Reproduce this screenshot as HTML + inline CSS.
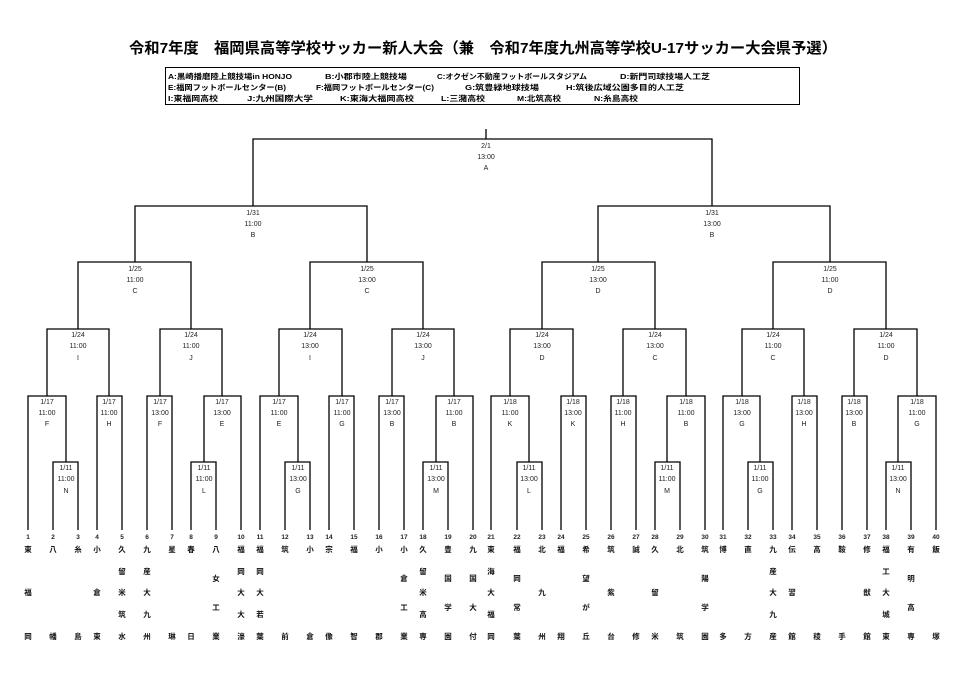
<!DOCTYPE html>
<html><head><meta charset="utf-8"><style>
html,body{margin:0;padding:0;background:#fff;}
svg{display:block;font-family:"Liberation Sans","Noto Sans CJK JP",sans-serif;}
.l{font-size:7px;fill:#222;text-anchor:middle;}
.n{font-size:6.5px;fill:#222;text-anchor:middle;font-weight:bold;}
.t{font-size:7.5px;fill:#111;text-anchor:middle;font-weight:bold;}
.g{font-size:7.5px;font-weight:bold;fill:#000;}
</style></head><body>
<svg width="966" height="680" viewBox="0 0 966 680" xmlns="http://www.w3.org/2000/svg">
<text x="483" y="53" text-anchor="middle" font-size="15" font-weight="bold" textLength="708" lengthAdjust="spacingAndGlyphs">令和7年度　福岡県高等学校サッカー新人大会（兼　令和7年度九州高等学校U-17サッカー大会県予選）</text>
<rect x="165.5" y="67.5" width="634" height="37" fill="none" stroke="#000" stroke-width="1"/>
<g class="g">
<text x="168" y="79" textLength="124" lengthAdjust="spacingAndGlyphs">A:黒崎播磨陸上競技場in HONJO</text>
<text x="325" y="79" textLength="82" lengthAdjust="spacingAndGlyphs">B:小郡市陸上競技場</text>
<text x="437" y="79" textLength="150" lengthAdjust="spacingAndGlyphs">C:オクゼン不動産フットボールスタジアム</text>
<text x="620" y="79" textLength="90" lengthAdjust="spacingAndGlyphs">D:新門司球技場人工芝</text>
<text x="168" y="90" textLength="118" lengthAdjust="spacingAndGlyphs">E:福岡フットボールセンター(B)</text>
<text x="316" y="90" textLength="118" lengthAdjust="spacingAndGlyphs">F:福岡フットボールセンター(C)</text>
<text x="465" y="90" textLength="74" lengthAdjust="spacingAndGlyphs">G:筑豊緑地球技場</text>
<text x="566" y="90" textLength="118" lengthAdjust="spacingAndGlyphs">H:筑後広域公園多目的人工芝</text>
<text x="168" y="101" textLength="50" lengthAdjust="spacingAndGlyphs">I:東福岡高校</text>
<text x="247" y="101" textLength="66" lengthAdjust="spacingAndGlyphs">J:九州国際大学</text>
<text x="340" y="101" textLength="74" lengthAdjust="spacingAndGlyphs">K:東海大福岡高校</text>
<text x="441" y="101" textLength="44" lengthAdjust="spacingAndGlyphs">L:三潴高校</text>
<text x="517" y="101" textLength="44" lengthAdjust="spacingAndGlyphs">M:北筑高校</text>
<text x="594" y="101" textLength="44" lengthAdjust="spacingAndGlyphs">N:糸島高校</text>
</g>
<g fill="none" stroke="#000" stroke-width="1.3">
<path d="M486 129V139"/>
<path d="M53 530V462H78V530"/>
<path d="M28 530V396H66V462"/>
<path d="M97 530V396H122V530"/>
<path d="M47 396V329H109V396"/>
<path d="M147 530V396H172V530"/>
<path d="M191 530V462H216V530"/>
<path d="M204 462V396H241V530"/>
<path d="M160 396V329H222V396"/>
<path d="M78 329V262H191V329"/>
<path d="M285 530V462H310V530"/>
<path d="M260 530V396H298V462"/>
<path d="M329 530V396H354V530"/>
<path d="M279 396V329H342V396"/>
<path d="M379 530V396H404V530"/>
<path d="M423 530V462H448V530"/>
<path d="M436 462V396H473V530"/>
<path d="M392 396V329H454V396"/>
<path d="M310 329V262H423V329"/>
<path d="M135 262V206H367V262"/>
<path d="M517 530V462H542V530"/>
<path d="M491 530V396H529V462"/>
<path d="M561 530V396H586V530"/>
<path d="M510 396V329H573V396"/>
<path d="M611 530V396H636V530"/>
<path d="M655 530V462H680V530"/>
<path d="M667 462V396H705V530"/>
<path d="M623 396V329H686V396"/>
<path d="M542 329V262H655V329"/>
<path d="M748 530V462H773V530"/>
<path d="M723 530V396H760V462"/>
<path d="M792 530V396H817V530"/>
<path d="M742 396V329H804V396"/>
<path d="M842 530V396H867V530"/>
<path d="M886 530V462H911V530"/>
<path d="M898 462V396H936V530"/>
<path d="M854 396V329H917V396"/>
<path d="M773 329V262H886V329"/>
<path d="M598 262V206H830V262"/>
<path d="M253 206V139H712V206"/>
</g>
<g class="l">
<text x="486" y="148">2/1</text><text x="486" y="159">13:00</text><text x="486" y="170">A</text>
<text x="253" y="215">1/31</text><text x="253" y="226">11:00</text><text x="253" y="237">B</text>
<text x="712" y="215">1/31</text><text x="712" y="226">13:00</text><text x="712" y="237">B</text>
<text x="135" y="271">1/25</text><text x="135" y="282">11:00</text><text x="135" y="293">C</text>
<text x="367" y="271">1/25</text><text x="367" y="282">13:00</text><text x="367" y="293">C</text>
<text x="598" y="271">1/25</text><text x="598" y="282">13:00</text><text x="598" y="293">D</text>
<text x="830" y="271">1/25</text><text x="830" y="282">11:00</text><text x="830" y="293">D</text>
<text x="78" y="337">1/24</text><text x="78" y="348">11:00</text><text x="78" y="360">I</text>
<text x="191" y="337">1/24</text><text x="191" y="348">11:00</text><text x="191" y="360">J</text>
<text x="310" y="337">1/24</text><text x="310" y="348">13:00</text><text x="310" y="360">I</text>
<text x="423" y="337">1/24</text><text x="423" y="348">13:00</text><text x="423" y="360">J</text>
<text x="542" y="337">1/24</text><text x="542" y="348">13:00</text><text x="542" y="360">D</text>
<text x="655" y="337">1/24</text><text x="655" y="348">13:00</text><text x="655" y="360">C</text>
<text x="773" y="337">1/24</text><text x="773" y="348">11:00</text><text x="773" y="360">C</text>
<text x="886" y="337">1/24</text><text x="886" y="348">11:00</text><text x="886" y="360">D</text>
<text x="47" y="404">1/17</text><text x="47" y="415">11:00</text><text x="47" y="426">F</text>
<text x="109" y="404">1/17</text><text x="109" y="415">11:00</text><text x="109" y="426">H</text>
<text x="160" y="404">1/17</text><text x="160" y="415">13:00</text><text x="160" y="426">F</text>
<text x="222" y="404">1/17</text><text x="222" y="415">13:00</text><text x="222" y="426">E</text>
<text x="279" y="404">1/17</text><text x="279" y="415">11:00</text><text x="279" y="426">E</text>
<text x="342" y="404">1/17</text><text x="342" y="415">11:00</text><text x="342" y="426">G</text>
<text x="392" y="404">1/17</text><text x="392" y="415">13:00</text><text x="392" y="426">B</text>
<text x="454" y="404">1/17</text><text x="454" y="415">11:00</text><text x="454" y="426">B</text>
<text x="510" y="404">1/18</text><text x="510" y="415">11:00</text><text x="510" y="426">K</text>
<text x="573" y="404">1/18</text><text x="573" y="415">13:00</text><text x="573" y="426">K</text>
<text x="623" y="404">1/18</text><text x="623" y="415">11:00</text><text x="623" y="426">H</text>
<text x="686" y="404">1/18</text><text x="686" y="415">11:00</text><text x="686" y="426">B</text>
<text x="742" y="404">1/18</text><text x="742" y="415">13:00</text><text x="742" y="426">G</text>
<text x="804" y="404">1/18</text><text x="804" y="415">13:00</text><text x="804" y="426">H</text>
<text x="854" y="404">1/18</text><text x="854" y="415">13:00</text><text x="854" y="426">B</text>
<text x="917" y="404">1/18</text><text x="917" y="415">11:00</text><text x="917" y="426">G</text>
<text x="66" y="470">1/11</text><text x="66" y="481">11:00</text><text x="66" y="493">N</text>
<text x="204" y="470">1/11</text><text x="204" y="481">11:00</text><text x="204" y="493">L</text>
<text x="298" y="470">1/11</text><text x="298" y="481">13:00</text><text x="298" y="493">G</text>
<text x="436" y="470">1/11</text><text x="436" y="481">13:00</text><text x="436" y="493">M</text>
<text x="529" y="470">1/11</text><text x="529" y="481">13:00</text><text x="529" y="493">L</text>
<text x="667" y="470">1/11</text><text x="667" y="481">11:00</text><text x="667" y="493">M</text>
<text x="760" y="470">1/11</text><text x="760" y="481">11:00</text><text x="760" y="493">G</text>
<text x="898" y="470">1/11</text><text x="898" y="481">13:00</text><text x="898" y="493">N</text>
</g>
<g class="n">
<text x="28" y="539">1</text><text x="53" y="539">2</text><text x="78" y="539">3</text><text x="97" y="539">4</text><text x="122" y="539">5</text>
<text x="147" y="539">6</text><text x="172" y="539">7</text><text x="191" y="539">8</text><text x="216" y="539">9</text><text x="241" y="539">10</text>
<text x="260" y="539">11</text><text x="285" y="539">12</text><text x="310" y="539">13</text><text x="329" y="539">14</text><text x="354" y="539">15</text>
<text x="379" y="539">16</text><text x="404" y="539">17</text><text x="423" y="539">18</text><text x="448" y="539">19</text><text x="473" y="539">20</text>
<text x="491" y="539">21</text><text x="517" y="539">22</text><text x="542" y="539">23</text><text x="561" y="539">24</text><text x="586" y="539">25</text>
<text x="611" y="539">26</text><text x="636" y="539">27</text><text x="655" y="539">28</text><text x="680" y="539">29</text><text x="705" y="539">30</text>
<text x="723" y="539">31</text><text x="748" y="539">32</text><text x="773" y="539">33</text><text x="792" y="539">34</text><text x="817" y="539">35</text>
<text x="842" y="539">36</text><text x="867" y="539">37</text><text x="886" y="539">38</text><text x="911" y="539">39</text><text x="936" y="539">40</text>
</g>
<g class="t">
<text x="28" y="552">東</text><text x="28" y="595">福</text><text x="28" y="639">岡</text>
<text x="53" y="552">八</text><text x="53" y="639">幡</text>
<text x="78" y="552">糸</text><text x="78" y="639">島</text>
<text x="97" y="552">小</text><text x="97" y="595">倉</text><text x="97" y="639">東</text>
<text x="122" y="552">久</text><text x="122" y="574">留</text><text x="122" y="595">米</text><text x="122" y="617">筑</text><text x="122" y="639">水</text>
<text x="147" y="552">九</text><text x="147" y="574">産</text><text x="147" y="595">大</text><text x="147" y="617">九</text><text x="147" y="639">州</text>
<text x="172" y="552">星</text><text x="172" y="639">琳</text>
<text x="191" y="552">春</text><text x="191" y="639">日</text>
<text x="216" y="552">八</text><text x="216" y="581">女</text><text x="216" y="610">工</text><text x="216" y="639">業</text>
<text x="241" y="552">福</text><text x="241" y="574">岡</text><text x="241" y="595">大</text><text x="241" y="617">大</text><text x="241" y="639">濠</text>
<text x="260" y="552">福</text><text x="260" y="574">岡</text><text x="260" y="595">大</text><text x="260" y="617">若</text><text x="260" y="639">葉</text>
<text x="285" y="552">筑</text><text x="285" y="639">前</text>
<text x="310" y="552">小</text><text x="310" y="639">倉</text>
<text x="329" y="552">宗</text><text x="329" y="639">像</text>
<text x="354" y="552">福</text><text x="354" y="639">智</text>
<text x="379" y="552">小</text><text x="379" y="639">郡</text>
<text x="404" y="552">小</text><text x="404" y="581">倉</text><text x="404" y="610">工</text><text x="404" y="639">業</text>
<text x="423" y="552">久</text><text x="423" y="574">留</text><text x="423" y="595">米</text><text x="423" y="617">高</text><text x="423" y="639">専</text>
<text x="448" y="552">豊</text><text x="448" y="581">国</text><text x="448" y="610">学</text><text x="448" y="639">園</text>
<text x="473" y="552">九</text><text x="473" y="581">国</text><text x="473" y="610">大</text><text x="473" y="639">付</text>
<text x="491" y="552">東</text><text x="491" y="574">海</text><text x="491" y="595">大</text><text x="491" y="617">福</text><text x="491" y="639">岡</text>
<text x="517" y="552">福</text><text x="517" y="581">岡</text><text x="517" y="610">常</text><text x="517" y="639">葉</text>
<text x="542" y="552">北</text><text x="542" y="595">九</text><text x="542" y="639">州</text>
<text x="561" y="552">福</text><text x="561" y="639">翔</text>
<text x="586" y="552">希</text><text x="586" y="581">望</text><text x="586" y="610">が</text><text x="586" y="639">丘</text>
<text x="611" y="552">筑</text><text x="611" y="595">紫</text><text x="611" y="639">台</text>
<text x="636" y="552">誠</text><text x="636" y="639">修</text>
<text x="655" y="552">久</text><text x="655" y="595">留</text><text x="655" y="639">米</text>
<text x="680" y="552">北</text><text x="680" y="639">筑</text>
<text x="705" y="552">筑</text><text x="705" y="581">陽</text><text x="705" y="610">学</text><text x="705" y="639">園</text>
<text x="723" y="552">博</text><text x="723" y="639">多</text>
<text x="748" y="552">直</text><text x="748" y="639">方</text>
<text x="773" y="552">九</text><text x="773" y="574">産</text><text x="773" y="595">大</text><text x="773" y="617">九</text><text x="773" y="639">産</text>
<text x="792" y="552">伝</text><text x="792" y="595">習</text><text x="792" y="639">館</text>
<text x="817" y="552">高</text><text x="817" y="639">稜</text>
<text x="842" y="552">鞍</text><text x="842" y="639">手</text>
<text x="867" y="552">修</text><text x="867" y="595">猷</text><text x="867" y="639">館</text>
<text x="886" y="552">福</text><text x="886" y="574">工</text><text x="886" y="595">大</text><text x="886" y="617">城</text><text x="886" y="639">東</text>
<text x="911" y="552">有</text><text x="911" y="581">明</text><text x="911" y="610">高</text><text x="911" y="639">専</text>
<text x="936" y="552">飯</text><text x="936" y="639">塚</text>
</g>
</svg>
</body></html>
